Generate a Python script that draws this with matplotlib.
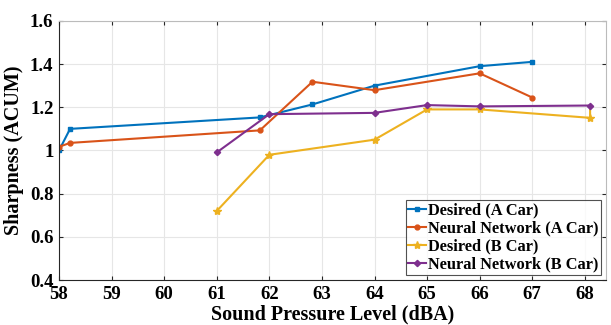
import matplotlib
matplotlib.use("Agg")
import matplotlib.pyplot as plt

# dati
x_des_a = [58.0, 58.21, 61.82, 62.82, 64.0, 66.0, 67.0]
y_des_a = [1.00, 1.10, 1.153, 1.213, 1.30, 1.39, 1.41]

x_nn_a = [58.0, 58.21, 61.82, 62.82, 64.0, 66.0, 67.0]
y_nn_a = [1.017, 1.035, 1.093, 1.318, 1.279, 1.357, 1.245]

x_des_b = [61.0, 62.0, 64.0, 65.0, 66.0, 68.1, 68.1]
y_des_b = [0.72, 0.98, 1.05, 1.19, 1.19, 1.151, 1.208]

x_nn_b = [61.0, 62.0, 64.0, 65.0, 66.0, 68.1]
y_nn_b = [0.991, 1.168, 1.174, 1.21, 1.204, 1.208]

x_ticks = [58, 59, 60, 61, 62, 63, 64, 65, 66, 67, 68]
y_ticks = [0.4, 0.6, 0.8, 1.0, 1.2, 1.4, 1.6]
y_labels = ["0.4", "0.6", "0.8", "1", "1.2", "1.4", "1.6"]

plt.rcParams["font.family"] = ["Liberation Serif", "DejaVu Serif"]
plt.rcParams["font.weight"] = "bold"

fig = plt.figure(figsize=(6.11, 3.25), dpi=100)
ax = fig.add_axes([0.0966, 0.138, 0.895, 0.798])

ax.plot(x_des_a, y_des_a, color="#0072BD", marker="s", markersize=3.5, lw=1.5, label="Desired (A Car)")
ax.plot(x_nn_a, y_nn_a, color="#D95319", marker="o", markersize=3.5, lw=1.5, label="Neural Network (A Car)")
ax.plot(x_des_b, y_des_b, color="#EDB120", marker="*", markersize=6, lw=1.5,
        markevery=[0, 1, 2, 3, 4, 5], label="Desired (B Car)")
ax.plot(x_nn_b, y_nn_b, color="#7E2F8E", marker="D", markersize=3.2, lw=1.5, label="Neural Network (B Car)")

ax.set_xlim(58, 68.4)
ax.set_ylim(0.4, 1.6)
ax.set_xticks(x_ticks)
ax.set_yticks(y_ticks)
ax.set_yticklabels(y_labels)
ax.tick_params(direction="in", top=True, right=True, labelsize=13.5, length=3,
               color="#262626", pad=4)
for lab in ax.get_xticklabels() + ax.get_yticklabels():
    lab.set_fontweight("bold")
ax.grid(True, color="#e6e6e6", lw=0.8)
ax.set_axisbelow(True)
for s in ax.spines.values():
    s.set_color("#262626")
    s.set_linewidth(0.8)
ax.spines["top"].set_color("#bbbbbb")
ax.spines["right"].set_color("#bbbbbb")

ax.set_xlabel("Sound Pressure Level (dBA)", fontsize=14.5, fontweight="bold", labelpad=1)
ax.set_ylabel("Sharpness (ACUM)", fontsize=14.5, fontweight="bold", labelpad=4)

leg = ax.legend(loc="lower right", fontsize=11.8, frameon=True, fancybox=False,
                edgecolor="#262626", handlelength=1.1, handletextpad=0.1,
                borderpad=0.15, labelspacing=0.12, borderaxespad=0.3)
leg.get_frame().set_linewidth(0.8)

plt.savefig("out.png", dpi=100)
plt.close()
